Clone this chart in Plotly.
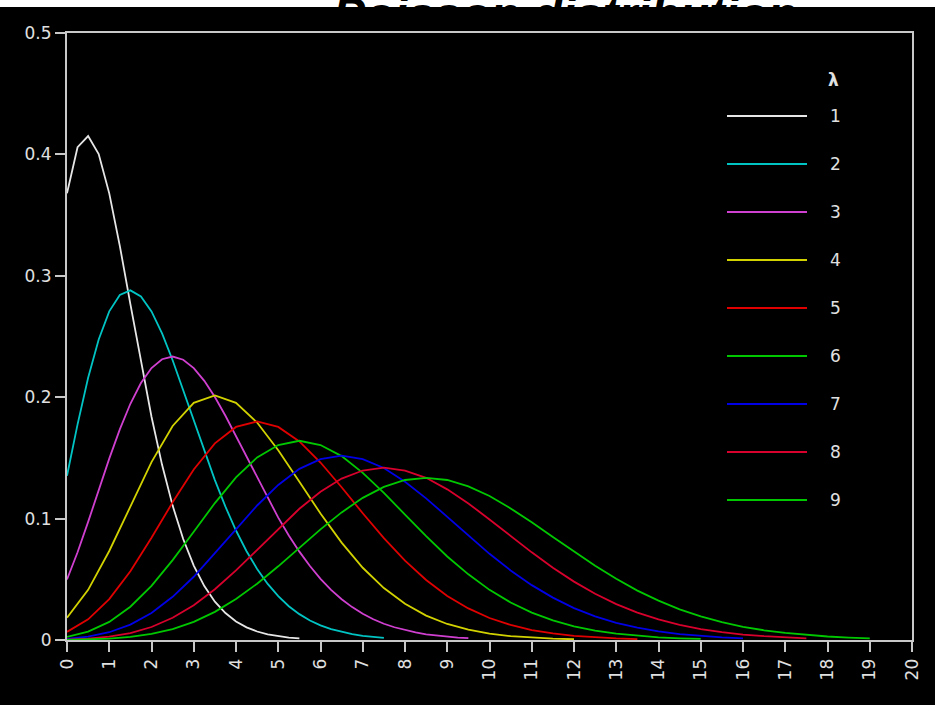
import plotly.graph_objects as go

# ---------------- data ----------------
X_QUARTER = [0, 0.25, 0.5, 0.75, 1, 1.25, 1.5, 1.75, 2, 2.25, 2.5, 2.75, 3, 3.25, 3.5, 3.75,
             4, 4.25, 4.5, 4.75, 5, 5.25, 5.5, 5.75, 6, 6.25, 6.5, 6.75, 7, 7.25, 7.5, 7.75,
             8, 8.25, 8.5, 8.75, 9, 9.25, 9.5]
X_HALF = [0, 0.5, 1, 1.5, 2, 2.5, 3, 3.5, 4, 4.5, 5, 5.5, 6, 6.5, 7, 7.5, 8, 8.5, 9, 9.5,
          10, 10.5, 11, 11.5, 12, 12.5, 13, 13.5, 14, 14.5, 15, 15.5, 16, 16.5, 17, 17.5,
          18, 18.5, 19]

lam1 = [0.3679, 0.4059, 0.4151, 0.4003, 0.3679, 0.3247, 0.2767, 0.2287, 0.1839, 0.1443,
        0.1107, 0.0832, 0.0613, 0.0444, 0.0316, 0.0222, 0.0153, 0.0104, 0.0070, 0.0047,
        0.0031, 0.0020, 0.0013]
lam2 = [0.1353, 0.1776, 0.2160, 0.2476, 0.2707, 0.2842, 0.2880, 0.2830, 0.2707, 0.2526,
        0.2304, 0.2058, 0.1804, 0.1554, 0.1317, 0.1098, 0.0902, 0.0731, 0.0585, 0.0462,
        0.0361, 0.0278, 0.0213, 0.0161, 0.0120, 0.0089, 0.0066, 0.0048, 0.0034, 0.0025,
        0.0018]
lam3 = [0.0498, 0.0723, 0.0973, 0.1235, 0.1494, 0.1735, 0.1946, 0.2117, 0.2240, 0.2313,
        0.2335, 0.2309, 0.2240, 0.2135, 0.2001, 0.1847, 0.1680, 0.1507, 0.1334, 0.1167,
        0.1008, 0.0861, 0.0728, 0.0609, 0.0504, 0.0413, 0.0336, 0.0271, 0.0216, 0.0171,
        0.0134, 0.0105, 0.0081, 0.0062, 0.0047, 0.0036, 0.0027, 0.0020, 0.0015]
lam4 = [0.0183, 0.0413, 0.0733, 0.1102, 0.1465, 0.1763, 0.1954, 0.2015, 0.1954, 0.1791,
        0.1563, 0.1303, 0.1042, 0.0802, 0.0595, 0.0428, 0.0298, 0.0201, 0.0132, 0.0085,
        0.0053, 0.0032, 0.0019, 0.0011, 0.0006]
lam5 = [0.0067, 0.0170, 0.0337, 0.0567, 0.0842, 0.1134, 0.1404, 0.1620, 0.1755, 0.1800,
        0.1755, 0.1636, 0.1462, 0.1258, 0.1044, 0.0839, 0.0653, 0.0494, 0.0363, 0.0260,
        0.0181, 0.0124, 0.0082, 0.0054, 0.0034, 0.0022, 0.0013, 0.0008]
lam6 = [0.0025, 0.0069, 0.0149, 0.0274, 0.0446, 0.0658, 0.0892, 0.1128, 0.1339, 0.1504,
        0.1606, 0.1641, 0.1606, 0.1515, 0.1377, 0.1212, 0.1033, 0.0856, 0.0688, 0.0541,
        0.0413, 0.0309, 0.0225, 0.0161, 0.0113, 0.0077, 0.0052, 0.0034, 0.0022, 0.0014,
        0.0009]
lam7 = [0.0009, 0.0027, 0.0064, 0.0127, 0.0223, 0.0356, 0.0521, 0.0712, 0.0912, 0.1108,
        0.1277, 0.1410, 0.1490, 0.1518, 0.1490, 0.1417, 0.1304, 0.1167, 0.1014, 0.0860,
        0.0710, 0.0573, 0.0452, 0.0349, 0.0263, 0.0195, 0.0142, 0.0101, 0.0071, 0.0049,
        0.0033, 0.0022, 0.0014]
lam8 = [0.0003, 0.0011, 0.0027, 0.0057, 0.0107, 0.0183, 0.0286, 0.0418, 0.0573, 0.0743,
        0.0916, 0.1081, 0.1221, 0.1330, 0.1396, 0.1419, 0.1396, 0.1336, 0.1241, 0.1125,
        0.0993, 0.0857, 0.0722, 0.0596, 0.0481, 0.0381, 0.0296, 0.0226, 0.0169, 0.0125,
        0.0090, 0.0065, 0.0045, 0.0032, 0.0021, 0.0014]
lam9 = [0.0001, 0.0004, 0.0011, 0.0025, 0.0050, 0.0090, 0.0150, 0.0232, 0.0337, 0.0464,
        0.0607, 0.0759, 0.0911, 0.1051, 0.1171, 0.1261, 0.1318, 0.1335, 0.1318, 0.1265,
        0.1186, 0.1084, 0.0970, 0.0848, 0.0728, 0.0611, 0.0504, 0.0407, 0.0324, 0.0253,
        0.0194, 0.0147, 0.0109, 0.0080, 0.0058, 0.0041, 0.0029, 0.0020, 0.0014]

series_names = ["1", "2", "3", "4", "5", "6", "7", "8", "9"]
series_values = [lam1, lam2, lam3, lam4, lam5, lam6, lam7, lam8, lam9]
series_x = [X_QUARTER, X_QUARTER, X_QUARTER, X_HALF, X_HALF, X_HALF, X_HALF, X_HALF, X_HALF]
colors = ["#e6e6e6", "#00c4c4", "#d040d0", "#d2d200", "#e00000",
          "#00c800", "#0000e6", "#d8002c", "#00c800"]

y_tickvals = [0, 0.1, 0.2, 0.3, 0.4, 0.5]
y_ticktext = ["0", "0.1", "0.2", "0.3", "0.4", "0.5"]
x_tickvals = list(range(0, 21))
x_ticktext = [str(v) for v in x_tickvals]
legend_title = "λ"
title_text = "Poisson distribution"

# ---------------- figure ----------------
W, H = 935, 705
ML, MR, MT, MB = 67, 23, 33, 65
plot_w = W - ML - MR
plot_h = H - MT - MB

fig = go.Figure()
for name, xs, ys, c in zip(series_names, series_x, series_values, colors):
    fig.add_trace(go.Scatter(x=xs[:len(ys)], y=ys, mode="lines", name=name,
                             line=dict(color=c, width=1.8), showlegend=False,
                             cliponaxis=False))

axis_col = "#c8c8c8"
font_fam = "DejaVu Sans"

def px_to_paper_x(px):
    return (px - ML) / plot_w

def px_to_paper_y(py):
    return (H - MB - py) / plot_h

shapes = []
annotations = []
# manual legend
row0 = 116
step = 48
for i, (name, c) in enumerate(zip(series_names, colors)):
    yy = px_to_paper_y(row0 + i * step)
    shapes.append(dict(type="line", xref="paper", yref="paper",
                       x0=px_to_paper_x(727), x1=px_to_paper_x(807), y0=yy, y1=yy,
                       line=dict(color=c, width=2)))
    annotations.append(dict(xref="paper", yref="paper", x=px_to_paper_x(835), y=yy,
                            text=name, showarrow=False, xanchor="center", yanchor="middle",
                            font=dict(family=font_fam, size=17, color="#e0e0e0")))
annotations.append(dict(xref="paper", yref="paper", x=px_to_paper_x(833), y=px_to_paper_y(80),
                        text="<b>" + legend_title + "</b>", showarrow=False,
                        xanchor="center", yanchor="middle",
                        font=dict(family=font_fam, size=17, color="#e0e0e0")))

# white strip at the very top, behind the cut-off title
shapes.append(dict(type="rect", xref="paper", yref="paper", x0=-0.2, x1=1.2,
                   y0=px_to_paper_y(7), y1=px_to_paper_y(-20),
                   fillcolor="white", line=dict(width=0), layer="below"))

fig.update_layout(
    width=W, height=H,
    margin=dict(l=ML, r=MR, t=MT, b=MB, pad=0),
    paper_bgcolor="black", plot_bgcolor="black",
    shapes=shapes, annotations=annotations,
    showlegend=False,
    title=dict(text="<b><i>" + title_text + "</i></b>", x=565 / W, xanchor="center",
               y=1 - 31 / H, yanchor="bottom", yref="container",
               font=dict(family="Liberation Sans", size=48, color="#000000", shadow="none")),
    xaxis=dict(range=[0, 20], tickvals=x_tickvals, ticktext=x_ticktext, tickangle=-90,
               showgrid=False, zeroline=False, showline=True, mirror=True,
               linecolor=axis_col, linewidth=2, ticks="outside", ticklen=10,
               tickwidth=2, tickcolor=axis_col, layer="below traces",
               tickfont=dict(family=font_fam, size=17, color="#e0e0e0")),
    yaxis=dict(range=[0, 0.5], tickvals=y_tickvals, ticktext=y_ticktext,
               showgrid=False, zeroline=False, showline=True, mirror=True,
               linecolor=axis_col, linewidth=2, ticks="outside", ticklen=10,
               tickwidth=2, tickcolor=axis_col, layer="below traces",
               tickfont=dict(family=font_fam, size=17, color="#e0e0e0")),
)

fig.write_html(
    "out.html",
    config={"displayModeBar": False},
    post_script="document.documentElement.style.background='black';"
                "document.documentElement.style.overflow='hidden';"
                "document.body.style.margin='0';document.body.style.overflow='hidden';"
                "document.body.style.background='black';",
)
